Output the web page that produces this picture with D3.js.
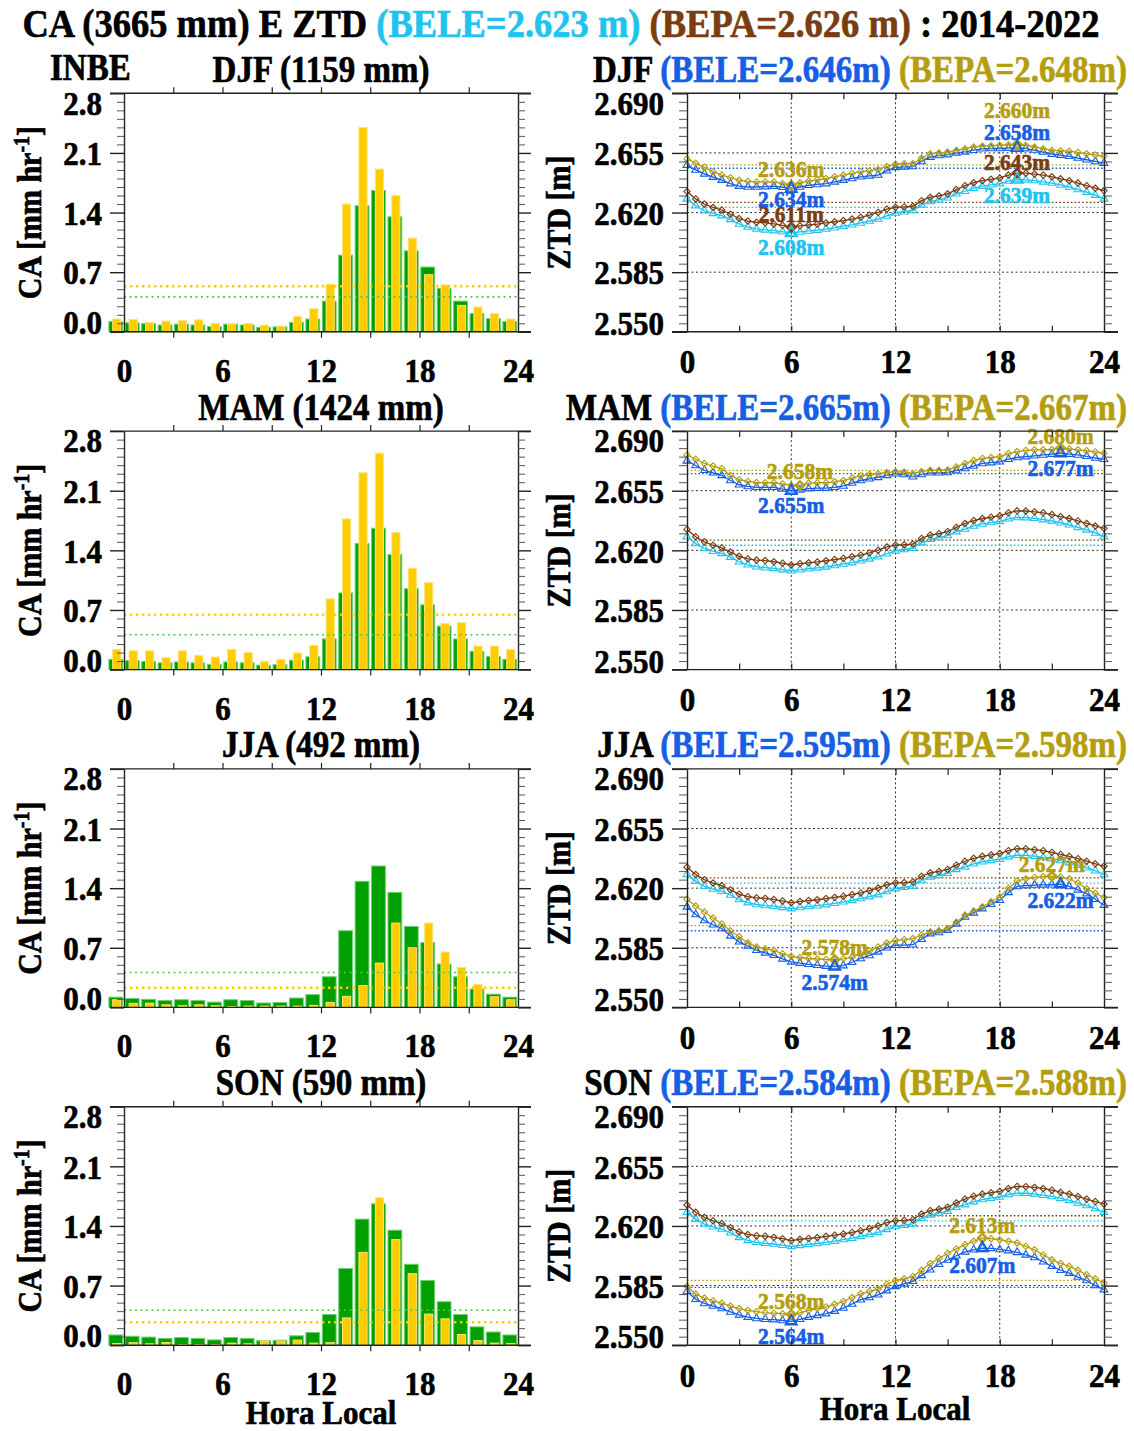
<!DOCTYPE html>
<html><head><meta charset="utf-8">
<script src="https://cdn.jsdelivr.net/npm/d3@7"></script>
<style>
body{margin:0;background:#fff}
svg text{font-family:"Liberation Serif","Times New Roman",serif;font-weight:bold;white-space:pre;stroke:currentColor;stroke-width:0.6;paint-order:stroke}
</style></head><body>
<svg id="chart" width="1134" height="1431"></svg>
<script>
// ---------------- DATA ----------------
const seasons = ["DJF","MAM","JJA","SON"];
const station = "INBE";
const period = "2014-2022";
const annualPrecip = 3665;
const seasonPrecip = [1159, 1424, 492, 590];

// hourly convective rain rate (mm/hr), bars at each hour 0..24
const barHours = [0,1,2,3,4,5,6,7,8,9,10,11,12,13,14,15,16,17,18,19,20,21,22,23,24];
const caAnnual = [0.12,0.105,0.095,0.08,0.09,0.08,0.062,0.09,0.08,0.052,0.058,0.11,0.15,0.36,0.90,1.48,1.66,1.35,0.95,0.76,0.51,0.36,0.215,0.155,0.12];
const caDJF = [0.15,0.145,0.11,0.125,0.13,0.14,0.098,0.09,0.098,0.078,0.066,0.18,0.27,0.56,1.50,2.40,1.91,1.60,1.10,0.67,0.55,0.31,0.29,0.215,0.15];
const caMAM = [0.237,0.22,0.22,0.14,0.22,0.167,0.148,0.237,0.20,0.093,0.12,0.195,0.284,0.83,1.77,2.31,2.54,1.61,1.19,1.02,0.54,0.55,0.276,0.276,0.237];
const caJJA = [0.09,0.047,0.05,0.03,0.02,0.03,0.02,0.01,0.015,0.015,0.015,0.015,0.023,0.058,0.13,0.257,0.52,0.99,0.70,0.99,0.65,0.47,0.27,0.125,0.09];
const caSON = [0.02,0.03,0.016,0.03,0.008,0.008,0.008,0.024,0.016,0.047,0.047,0.06,0.024,0.03,0.32,1.09,1.73,1.24,0.84,0.365,0.31,0.125,0.055,0.024,0.02];
const caSeason = [caDJF, caMAM, caJJA, caSON];
const caMeanAnnual = 0.41;
const caMeanSeason = [0.535, 0.645, 0.23, 0.27];

// ZTD (m), half-hourly 0..24
const ztdHours = [0,0.5,1,1.5,2,2.5,3,3.5,4,4.5,5,5.5,6,6.5,7,7.5,8,8.5,9,9.5,10,10.5,11,11.5,12,12.5,13,13.5,14,14.5,15,15.5,16,16.5,17,17.5,18,18.5,19,19.5,20,20.5,21,21.5,22,22.5,23,23.5,24];
const ztdBeleAnnual = [2.628,2.624,2.6211,2.6195,2.6182,2.616,2.6133,2.6115,2.6104,2.6098,2.6094,2.6087,2.608,2.6086,2.6092,2.6097,2.6103,2.6111,2.612,2.6128,2.6139,2.615,2.6162,2.618,2.6197,2.6205,2.6212,2.6245,2.6265,2.6275,2.6287,2.631,2.6325,2.6343,2.6355,2.6363,2.637,2.6385,2.6393,2.6392,2.6388,2.638,2.6373,2.6362,2.635,2.6335,2.632,2.6302,2.628];
const ztdBepaAnnual = [2.6323,2.628,2.625,2.623,2.6215,2.619,2.6165,2.615,2.6143,2.614,2.6133,2.6125,2.6114,2.6122,2.6127,2.6132,2.6139,2.6146,2.6153,2.6162,2.6172,2.6185,2.6201,2.622,2.6231,2.6233,2.6237,2.627,2.629,2.6298,2.631,2.6335,2.6358,2.6375,2.6387,2.6395,2.6403,2.642,2.6432,2.6431,2.6426,2.642,2.641,2.6398,2.6387,2.6373,2.6358,2.6343,2.6329];
const ztdBeleDJF = [2.6478,2.645,2.6427,2.6408,2.639,2.637,2.6355,2.635,2.635,2.6352,2.6355,2.6348,2.634,2.635,2.636,2.6365,2.637,2.638,2.639,2.640,2.641,2.6415,2.642,2.6445,2.6465,2.6468,2.647,2.650,2.6525,2.6535,2.654,2.655,2.6556,2.6566,2.6574,2.6576,2.6576,2.6578,2.658,2.6575,2.6567,2.6555,2.6543,2.6537,2.653,2.652,2.651,2.650,2.649];
const ztdBepaDJF = [2.6515,2.649,2.6465,2.644,2.642,2.6405,2.639,2.6383,2.638,2.638,2.638,2.637,2.636,2.6375,2.6385,2.6392,2.640,2.641,2.642,2.643,2.644,2.6445,2.6453,2.647,2.6485,2.6487,2.6488,2.652,2.6545,2.655,2.6555,2.6565,2.6575,2.6585,2.659,2.6592,2.6595,2.6598,2.660,2.6595,2.6585,2.6575,2.6565,2.6563,2.656,2.6553,2.6545,2.6538,2.653];
const ztdBeleMAM = [2.6725,2.6698,2.667,2.6655,2.664,2.661,2.6585,2.6575,2.657,2.657,2.657,2.656,2.655,2.6555,2.6562,2.6565,2.6565,2.657,2.6578,2.6595,2.661,2.662,2.6628,2.664,2.665,2.6645,2.6632,2.6645,2.6655,2.6655,2.6657,2.6668,2.668,2.6695,2.671,2.6715,2.672,2.6735,2.6745,2.675,2.6755,2.676,2.6765,2.677,2.6765,2.676,2.6752,2.6742,2.6735];
const ztdBepaMAM = [2.676,2.6735,2.671,2.6695,2.668,2.664,2.6615,2.6605,2.6598,2.6597,2.6597,2.659,2.6582,2.658,2.6595,2.6597,2.6597,2.6602,2.661,2.6625,2.6638,2.6645,2.665,2.6657,2.6662,2.666,2.665,2.6663,2.667,2.667,2.6672,2.669,2.671,2.6727,2.674,2.6745,2.675,2.6768,2.678,2.6787,2.679,2.679,2.6792,2.680,2.6795,2.679,2.6785,2.6778,2.677];
const ztdBeleJJA = [2.609,2.6045,2.601,2.5985,2.5963,2.592,2.5885,2.586,2.5835,2.582,2.5806,2.5785,2.5767,2.576,2.5753,2.5747,2.5742,2.574,2.5745,2.5765,2.5787,2.5805,2.5826,2.585,2.5865,2.5865,2.5868,2.590,2.5933,2.594,2.5953,2.599,2.6031,2.6055,2.608,2.6105,2.6129,2.6175,2.621,2.6215,2.6218,2.6219,2.622,2.6222,2.621,2.619,2.6168,2.6135,2.610];
const ztdBepaJJA = [2.6135,2.6095,2.606,2.6025,2.599,2.595,2.5915,2.588,2.5855,2.5845,2.5835,2.5815,2.580,2.5793,2.5787,2.5784,2.5782,2.578,2.5785,2.5795,2.5812,2.5832,2.5855,2.5878,2.5894,2.5898,2.5904,2.5925,2.5943,2.595,2.5963,2.600,2.6041,2.6065,2.609,2.612,2.6149,2.620,2.6242,2.6255,2.6263,2.6268,2.627,2.6265,2.6255,2.623,2.6197,2.617,2.6145];
const ztdBeleSON = [2.5815,2.577,2.5745,2.573,2.5715,2.5695,2.5678,2.5665,2.5657,2.5652,2.565,2.5645,2.564,2.5652,2.5665,2.5675,2.5685,2.570,2.5718,2.5742,2.5767,2.578,2.5796,2.582,2.5845,2.586,2.5875,2.591,2.5943,2.5975,2.600,2.6025,2.6048,2.606,2.607,2.6068,2.6062,2.6055,2.6045,2.603,2.6015,2.599,2.5963,2.594,2.5923,2.590,2.588,2.585,2.5826];
const ztdBepaSON = [2.5845,2.580,2.5777,2.576,2.5747,2.573,2.5715,2.5705,2.5697,2.569,2.5688,2.5685,2.568,2.569,2.5705,2.5715,2.5725,2.574,2.5757,2.578,2.5802,2.5815,2.583,2.5858,2.588,2.589,2.5904,2.594,2.598,2.601,2.604,2.6065,2.609,2.611,2.613,2.6125,2.6119,2.611,2.610,2.608,2.606,2.603,2.6002,2.598,2.5963,2.594,2.5914,2.589,2.5865];
const ztdBeleSeason = [ztdBeleDJF, ztdBeleMAM, ztdBeleJJA, ztdBeleSON];
const ztdBepaSeason = [ztdBepaDJF, ztdBepaMAM, ztdBepaJJA, ztdBepaSON];
const beleMeanAnnual = 2.623, bepaMeanAnnual = 2.626;
const beleMeanSeason = [2.646, 2.665, 2.595, 2.584];
const bepaMeanSeason = [2.648, 2.667, 2.598, 2.588];

// ticks
const caTicks = [0, 0.7, 1.4, 2.1, 2.8];
const ztdTicks = [2.55, 2.585, 2.62, 2.655, 2.69];
const hourTicks = [0, 6, 12, 18, 24];
const hourMinorTicks = [3, 6, 9, 12, 15, 18, 21];

// ---------------- STYLE / LAYOUT ----------------
const C = {cyan:"#1ec3ee", brown:"#7a3c10", blue:"#165ee4", gold:"#b49e10",
           green:"#00a000", greenEdge:"#6fd06f", yellow:"#ffcc00", yellowEdge:"#ffe27a",
           greenDot:"#4fc94f"};
const SY = 1.12;
const TOP0 = 93.3, PSTEP = 337.8, PH = 238.5;
const LX = [124, 518], LF = [110, 531];
const RX = [687, 1104], RF = [672, 1118];
// label offsets (px) for extreme annotations
const annot = [
  [["bepaS","max",-34],["beleS","max",-16],["bepaA","max",-11],["beleA","max",15],
   ["bepaS","min",-16],["beleS","min",10],["bepaA","min",-13],["beleA","min",14]],
  [["bepaS","max",-12],["beleS","max",15],["bepaS","min",-15],["beleS","min",14]],
  [["bepaS","max",-12],["beleS","max",16],["bepaS","min",-13],["beleS","min",15]],
  [["bepaS","max",-13],["beleS","max",17],["bepaS","min",-14],["beleS","min",15]]
];

const svg = d3.select("#chart");
svg.append("rect").attr("width",1134).attr("height",1431).attr("fill","#fff");

function stext(parent, x, y, size, anchor, color) {
  return parent.append("text")
    .attr("transform", `translate(${x},${y}) scale(1,${SY})`)
    .attr("font-size", size).attr("text-anchor", anchor || "middle")
    .style("color", color || "#000").attr("fill", color || "#000");
}
function clean(g) { g.attr("font-family", null).attr("font-size", null).attr("fill", null); return g; }
function span(t, str, color) {
  const s = t.append("tspan").text(str);
  if (color) s.attr("fill", color).style("color", color);
  return s;
}

// main title
{
  const t = stext(svg, 561, 37, 36.5, "middle");
  span(t, `CA (${annualPrecip} mm) E ZTD `);
  span(t, `(BELE=${beleMeanAnnual.toFixed(3)} m)`, C.cyan);
  span(t, " ");
  span(t, `(BEPA=${bepaMeanAnnual.toFixed(3)} m)`, C.brown);
  span(t, ` : ${period}`);
}
stext(svg, 50, 80, 33, "start").text(station);

seasons.forEach((season, i) => {
  const T = TOP0 + i * PSTEP, B = T + PH;

  // ========== LEFT: bars ==========
  {
    const x = d3.scaleLinear().domain([0, 24]).range(LX);
    const y = d3.scaleLinear().domain([0, 2.8]).range([B, T]);
    const g = svg.append("g");

    g.selectAll("rect.gb").data(caAnnual).join("rect")
      .attr("x", (d, k) => x(barHours[k] - 0.5 - 0.42))
      .attr("width", x(0.84) - x(0))
      .attr("y", d => y(d)).attr("height", d => y(0) - y(d))
      .attr("fill", C.green).attr("stroke", C.greenEdge).attr("stroke-width", 1);
    g.selectAll("rect.yb").data(caSeason[i]).join("rect")
      .attr("x", (d, k) => x(barHours[k] - 0.5 + 0.06 - 0.25))
      .attr("width", x(0.5) - x(0))
      .attr("y", d => y(d)).attr("height", d => y(0) - y(d))
      .attr("fill", C.yellow).attr("stroke", C.yellowEdge).attr("stroke-width", 1);

    // mean lines
    g.append("line").attr("x1", x(0)).attr("x2", x(24)).attr("y1", y(caMeanAnnual)).attr("y2", y(caMeanAnnual))
      .attr("stroke", C.greenDot).attr("stroke-width", 1.6).attr("stroke-dasharray", "2,3.5");
    g.append("line").attr("x1", x(0)).attr("x2", x(24)).attr("y1", y(caMeanSeason[i])).attr("y2", y(caMeanSeason[i]))
      .attr("stroke", C.yellow).attr("stroke-width", 2.4).attr("stroke-dasharray", "2.4,3.6");

    // frame
    [T, B].forEach(yy => g.append("line").attr("x1", LF[0]).attr("x2", LF[1]).attr("y1", yy).attr("y2", yy)
      .attr("stroke", "#222").attr("stroke-width", 1.4));

    // y axes
    const minorCA = d3.range(0, 28.01, 1).map(v => v / 10).filter(v => !caTicks.some(t => Math.abs(t - v) < 1e-6));
    const gl = clean(g.append("g").attr("transform", `translate(${x(0)},0)`)
      .call(d3.axisLeft(y).tickValues(caTicks).tickSize(14).tickSizeOuter(0).tickPadding(8).tickFormat(d3.format(".1f"))));
    gl.select(".domain").attr("stroke", "#222").attr("stroke-width", 1.4);
    gl.selectAll(".tick line").attr("stroke", "#222").attr("stroke-width", 1.4);
    gl.selectAll(".tick text").attr("font-size", 31).attr("dy", null).attr("fill", "#000").style("color", "#000")
      .attr("y", d => ((d === 2.8 ? 9 : d === 0 ? -10 : 0) + 11.7) / SY)
      .attr("transform", `scale(1,${SY})`);
    const glm = clean(g.append("g").attr("transform", `translate(${x(0)},0)`)
      .call(d3.axisLeft(y).tickValues(minorCA).tickSize(7).tickSizeOuter(0).tickFormat("")));
    glm.select(".domain").remove();
    glm.selectAll(".tick line").attr("stroke", "#555").attr("stroke-width", 1);

    const gr = clean(g.append("g").attr("transform", `translate(${x(24)},0)`)
      .call(d3.axisRight(y).tickValues(caTicks).tickSize(13).tickSizeOuter(0).tickFormat("")));
    gr.select(".domain").attr("stroke", "#222").attr("stroke-width", 1.4);
    gr.selectAll(".tick line").attr("stroke", "#222").attr("stroke-width", 1.4);
    const grm = clean(g.append("g").attr("transform", `translate(${x(24)},0)`)
      .call(d3.axisRight(y).tickValues(minorCA).tickSize(7).tickSizeOuter(0).tickFormat("")));
    grm.select(".domain").remove();
    grm.selectAll(".tick line").attr("stroke", "#555").attr("stroke-width", 1);

    // x ticks (outward)
    const gb = clean(g.append("g").attr("transform", `translate(0,${B})`)
      .call(d3.axisBottom(x).tickValues(hourMinorTicks).tickSize(6).tickSizeOuter(0).tickFormat("")));
    gb.select(".domain").remove();
    gb.selectAll(".tick line").attr("stroke", "#222").attr("stroke-width", 1.2);
    const gt = clean(g.append("g").attr("transform", `translate(0,${T})`)
      .call(d3.axisTop(x).tickValues(hourMinorTicks).tickSize(6).tickSizeOuter(0).tickFormat("")));
    gt.select(".domain").remove();
    gt.selectAll(".tick line").attr("stroke", "#222").attr("stroke-width", 1.2);
    const gxl = clean(g.append("g").attr("transform", `translate(0,${B})`)
      .call(d3.axisBottom(x).tickValues(hourTicks).tickSize(0).tickSizeOuter(0).tickFormat(d3.format("d"))));
    gxl.select(".domain").remove();
    gxl.selectAll(".tick text").attr("font-size", 31).attr("dy", null).attr("fill", "#000").style("color", "#000")
      .attr("y", 50 / SY).attr("transform", `scale(1,${SY})`);

    // titles
    stext(g, x(12), T - 11.5, 33, "middle").text(`${season} (${seasonPrecip[i]} mm)`);
    const yl = g.append("text").attr("transform", `translate(41,${(T + B) / 2}) rotate(-90) scale(1,${SY})`)
      .attr("font-size", 30).attr("text-anchor", "middle").attr("fill", "#000").style("color", "#000");
    yl.append("tspan").text("CA [mm hr");
    yl.append("tspan").attr("font-size", 20).attr("dy", -11).text("-1");
    yl.append("tspan").attr("dy", 11).text("]");
    if (i === 3) stext(g, x(12), B + 79, 31, "middle").text("Hora Local");
  }

  // ========== RIGHT: ZTD ==========
  {
    const x = d3.scaleLinear().domain([0, 24]).range(RX);
    const y = d3.scaleLinear().domain([2.55, 2.69]).range([B, T]);
    const g = svg.append("g");

    // grid
    [6, 12, 18].forEach(h => g.append("line").attr("x1", x(h)).attr("x2", x(h)).attr("y1", T).attr("y2", B)
      .attr("stroke", "#333").attr("stroke-width", 1).attr("stroke-dasharray", "2,2.5"));
    [2.585, 2.62, 2.655].forEach(v => g.append("line").attr("x1", x(0)).attr("x2", x(24)).attr("y1", y(v)).attr("y2", y(v))
      .attr("stroke", "#333").attr("stroke-width", 1).attr("stroke-dasharray", "2,2.5"));

    const series = {
      beleA: {vals: ztdBeleAnnual, color: C.cyan, sym: d3.symbolTriangle, mean: beleMeanAnnual},
      bepaA: {vals: ztdBepaAnnual, color: C.brown, sym: d3.symbolDiamond2 || d3.symbolDiamond, mean: bepaMeanAnnual},
      beleS: {vals: ztdBeleSeason[i], color: C.blue, sym: d3.symbolTriangle, mean: beleMeanSeason[i]},
      bepaS: {vals: ztdBepaSeason[i], color: C.gold, sym: d3.symbolDiamond2 || d3.symbolDiamond, mean: bepaMeanSeason[i]}
    };
    const order = ["beleA", "bepaA", "beleS", "bepaS"];
    order.forEach(k => {
      const s = series[k];
      g.append("line").attr("x1", x(0)).attr("x2", x(24)).attr("y1", y(s.mean)).attr("y2", y(s.mean))
        .attr("stroke", s.color).attr("stroke-width", 1.3).attr("stroke-dasharray", "1.6,2.2");
    });
    const line = d3.line().x((d, k) => x(ztdHours[k])).y(d => y(d));
    order.forEach(k => {
      const s = series[k];
      g.append("path").datum(s.vals).attr("d", line).attr("fill", "none")
        .attr("stroke", s.color).attr("stroke-width", 1.3);
      g.selectAll(null).data(s.vals).join("path")
        .attr("transform", (d, j) => `translate(${x(ztdHours[j])},${y(d)})`)
        .attr("d", d3.symbol(s.sym, 26))
        .attr("fill", "none").attr("stroke", s.color).attr("stroke-width", 1.1);
    });

    // annotations
    annot[i].forEach(([k, ext, dy]) => {
      const s = series[k];
      const idx = ext === "max" ? d3.maxIndex(s.vals) : d3.minIndex(s.vals);
      const v = s.vals[idx], hx = x(ztdHours[idx]), vy = y(v);
      g.append("path").attr("transform", `translate(${hx},${vy})`).attr("d", d3.symbol(s.sym, 60))
        .attr("fill", "none").attr("stroke", s.color).attr("stroke-width", 1.6);
      stext(g, hx, vy + dy + 8, 21.5, "middle", s.color).text(`${v.toFixed(3)}m`);
    });

    // frame
    [T, B].forEach(yy => g.append("line").attr("x1", RF[0]).attr("x2", RF[1]).attr("y1", yy).attr("y2", yy)
      .attr("stroke", "#222").attr("stroke-width", 1.4));

    const minorZ = d3.range(0, 29, 1).map(v => 2.55 + v * 0.005).filter(v => !ztdTicks.some(t => Math.abs(t - v) < 1e-6));
    const gl = clean(g.append("g").attr("transform", `translate(${x(0)},0)`)
      .call(d3.axisLeft(y).tickValues(ztdTicks).tickSize(15).tickSizeOuter(0).tickPadding(8).tickFormat(d3.format(".3f"))));
    gl.select(".domain").attr("stroke", "#222").attr("stroke-width", 1.4);
    gl.selectAll(".tick line").attr("stroke", "#222").attr("stroke-width", 1.4);
    gl.selectAll(".tick text").attr("font-size", 31).attr("dy", null).attr("fill", "#000").style("color", "#000")
      .attr("y", d => ((Math.abs(d - 2.69) < 1e-6 ? 9 : Math.abs(d - 2.55) < 1e-6 ? -9 : 0) + 11.7) / SY)
      .attr("transform", `scale(1,${SY})`);
    const glm = clean(g.append("g").attr("transform", `translate(${x(0)},0)`)
      .call(d3.axisLeft(y).tickValues(minorZ).tickSize(8).tickSizeOuter(0).tickFormat("")));
    glm.select(".domain").remove();
    glm.selectAll(".tick line").attr("stroke", "#555").attr("stroke-width", 1);
    const gr = clean(g.append("g").attr("transform", `translate(${x(24)},0)`)
      .call(d3.axisRight(y).tickValues(ztdTicks).tickSize(14).tickSizeOuter(0).tickFormat("")));
    gr.select(".domain").attr("stroke", "#222").attr("stroke-width", 1.4);
    gr.selectAll(".tick line").attr("stroke", "#222").attr("stroke-width", 1.4);
    const grm = clean(g.append("g").attr("transform", `translate(${x(24)},0)`)
      .call(d3.axisRight(y).tickValues(minorZ).tickSize(8).tickSizeOuter(0).tickFormat("")));
    grm.select(".domain").remove();
    grm.selectAll(".tick line").attr("stroke", "#555").attr("stroke-width", 1);

    const gb = clean(g.append("g").attr("transform", `translate(0,${B})`)
      .call(d3.axisBottom(x).tickValues(hourMinorTicks).tickSize(-6).tickSizeOuter(0).tickFormat("")));
    gb.select(".domain").remove();
    gb.selectAll(".tick line").attr("stroke", "#222").attr("stroke-width", 1.2);
    const gt = clean(g.append("g").attr("transform", `translate(0,${T})`)
      .call(d3.axisTop(x).tickValues(hourMinorTicks).tickSize(-6).tickSizeOuter(0).tickFormat("")));
    gt.select(".domain").remove();
    gt.selectAll(".tick line").attr("stroke", "#222").attr("stroke-width", 1.2);
    const gxl = clean(g.append("g").attr("transform", `translate(0,${B})`)
      .call(d3.axisBottom(x).tickValues(hourTicks).tickSize(0).tickSizeOuter(0).tickFormat(d3.format("d"))));
    gxl.select(".domain").remove();
    gxl.selectAll(".tick text").attr("font-size", 31).attr("dy", null).attr("fill", "#000").style("color", "#000")
      .attr("y", 41.7 / SY).attr("transform", `scale(1,${SY})`);

    // title
    const t = stext(g, 1127, T - 11.5, 33, "end");
    span(t, `${season} `);
    span(t, `(BELE=${beleMeanSeason[i].toFixed(3)}m)`, C.blue);
    span(t, " ");
    span(t, `(BEPA=${bepaMeanSeason[i].toFixed(3)}m)`, C.gold);

    g.append("text").attr("transform", `translate(570,${(T + B) / 2}) rotate(-90) scale(1,${SY})`)
      .attr("font-size", 30).attr("text-anchor", "middle").attr("fill", "#000").style("color", "#000").text("ZTD [m]");
    if (i === 3) stext(g, 895, B + 75, 31, "middle").text("Hora Local");
  }
});
</script>
</body></html>
